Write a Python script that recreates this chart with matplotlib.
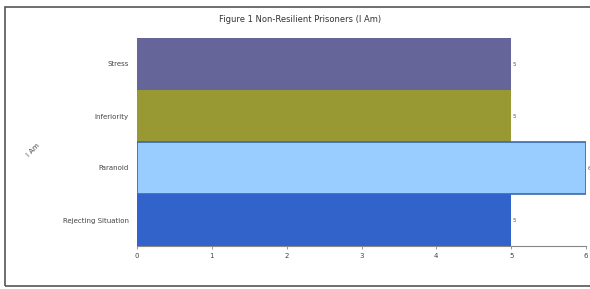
import matplotlib.pyplot as plt
from matplotlib.patches import Rectangle

categories = ['Stress', 'Inferiority', 'Paranoid', 'Rejecting Situation']
values = [5, 5, 6, 5]
colors = ['#666599', '#999933', '#99ccff', '#3163cb']
edges = ['none', 'none', '#3a6aa8', 'none']
ticks = [0, 1, 2, 3, 4, 5, 6]

fig = plt.figure(figsize=(5.9, 2.89), dpi=100)
# outer frame
fig.patches.append(Rectangle((5 / 590, 3 / 289), 1.0, 279 / 289, transform=fig.transFigure,
                             fill=False, edgecolor='#555555', linewidth=1.2))

ax = fig.add_axes([137 / 590, 1 - 246 / 289, 449 / 590, 208 / 289])
y = list(range(len(categories)))
for i in y:
    ax.barh(i, values[i], height=1.0, color=colors[i], edgecolor=edges[i], linewidth=1.2)
    ax.text(values[i] + 0.02, i, str(values[i]), fontsize=4, color='#555555', va='center', ha='left')

ax.set_ylim(len(categories) - 0.5, -0.5)
ax.set_xlim(0, 6)
ax.set_yticks(y)
ax.set_yticklabels(categories, fontsize=5, color='#444444')
ax.set_xticks(ticks)
ax.set_xticklabels([str(t) for t in ticks], fontsize=5, color='#444444')
ax.tick_params(axis='y', length=0, pad=6)
ax.tick_params(axis='x', length=2, width=0.6, color='#888888', pad=3)
for s in ['top', 'right', 'left']:
    ax.spines[s].set_visible(False)
ax.spines['bottom'].set_color('#888888')
ax.spines['bottom'].set_linewidth(0.8)

fig.text(300 / 590, 1 - 19 / 289, 'Figure 1 Non-Resilient Prisoners (I Am)', fontsize=6,
         color='#333333', ha='center', va='center')
fig.text(33 / 590, 1 - 150 / 289, 'I Am', fontsize=5, color='#444444', rotation=45,
         ha='center', va='center')

fig.savefig('out.png', dpi=100)
